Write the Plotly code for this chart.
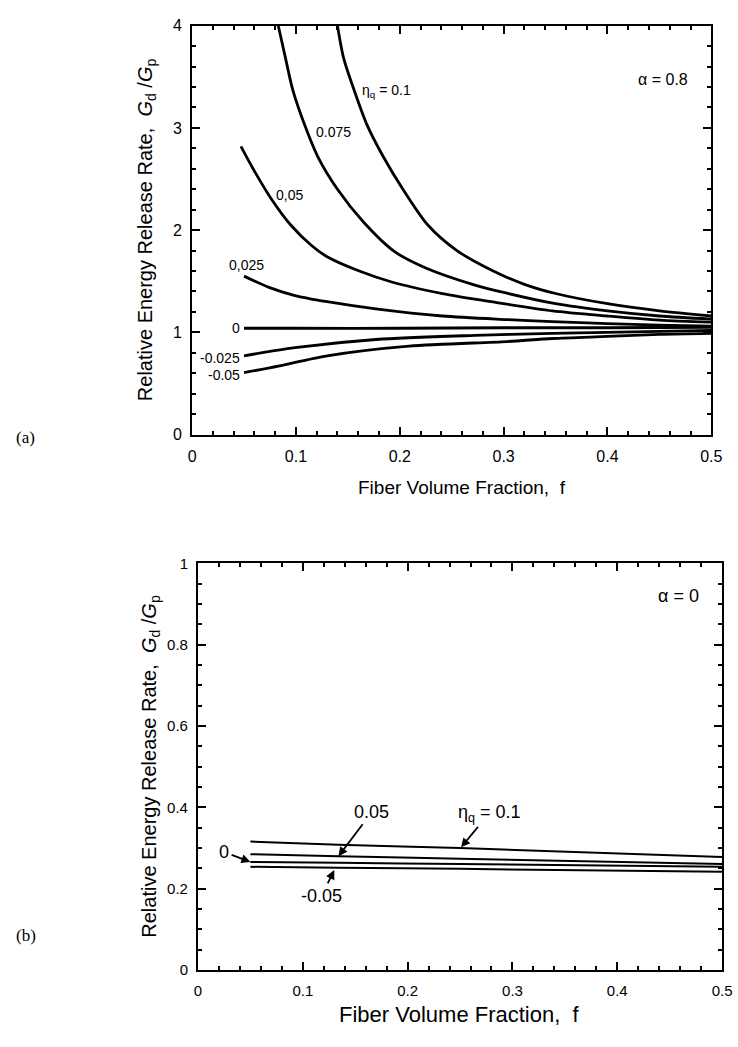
import plotly.graph_objects as go

# ---------------- data: panel (a), alpha = 0.8 ----------------
f_a_p100 = [0.140, 0.146, 0.156, 0.168, 0.184, 0.203, 0.227, 0.255, 0.290, 0.320, 0.350, 0.400, 0.450, 0.500]
g_a_p100 = [4.00, 3.68, 3.37, 3.04, 2.72, 2.40, 2.05, 1.80, 1.60, 1.47, 1.38, 1.28, 1.21, 1.16]
f_a_p075 = [0.083, 0.090, 0.097, 0.108, 0.121, 0.140, 0.165, 0.195, 0.225, 0.270, 0.300, 0.350, 0.400, 0.450, 0.500]
g_a_p075 = [4.00, 3.68, 3.37, 3.04, 2.72, 2.40, 2.08, 1.79, 1.63, 1.47, 1.39, 1.28, 1.21, 1.16, 1.13]
f_a_p050 = [0.047, 0.061, 0.076, 0.095, 0.115, 0.130, 0.161, 0.193, 0.241, 0.288, 0.347, 0.400, 0.450, 0.500]
g_a_p050 = [2.82, 2.56, 2.31, 2.05, 1.85, 1.74, 1.60, 1.49, 1.38, 1.30, 1.21, 1.16, 1.12, 1.10]
f_a_p025 = [0.050, 0.074, 0.099, 0.130, 0.177, 0.241, 0.303, 0.347, 0.400, 0.450, 0.500]
g_a_p025 = [1.55, 1.44, 1.36, 1.30, 1.23, 1.16, 1.125, 1.105, 1.085, 1.07, 1.06]
f_a_000 = [0.050, 0.100, 0.200, 0.300, 0.400, 0.500]
g_a_000 = [1.04, 1.04, 1.04, 1.045, 1.045, 1.05]
f_a_m025 = [0.050, 0.099, 0.177, 0.272, 0.347, 0.400, 0.450, 0.500]
g_a_m025 = [0.77, 0.85, 0.93, 0.97, 0.99, 1.00, 1.01, 1.02]
f_a_m050 = [0.050, 0.083, 0.130, 0.209, 0.303, 0.347, 0.400, 0.450, 0.500]
g_a_m050 = [0.606, 0.67, 0.77, 0.865, 0.91, 0.94, 0.96, 0.98, 0.99]

curve_labels_a = ["η<sub>q</sub> = 0.1", "0.075", "0,05", "0,025", "0", "-0.025", "-0.05"]
curve_label_f_a = [0.187, 0.136, 0.094, 0.052, 0.042, 0.027, 0.031]
curve_label_g_a = [3.36, 2.96, 2.34, 1.66, 1.04, 0.75, 0.58]

# ---------------- data: panel (b), alpha = 0 ----------------
f_b = [0.05, 0.134, 0.25, 0.50]
g_b_p100 = [0.316, 0.308, 0.300, 0.278]
g_b_p050 = [0.285, 0.280, 0.274, 0.261]
g_b_000 = [0.266, 0.264, 0.261, 0.254]
g_b_m050 = [0.254, 0.252, 0.249, 0.242]

labels_b = ["0.05", "η<sub>q</sub> = 0.1", "0", "-0.05"]
label_f_b = [0.166, 0.278, 0.025, 0.118]
label_g_b = [0.389, 0.386, 0.290, 0.183]
arrow_head_f_b = [0.134, 0.251, 0.050, 0.130]
arrow_head_g_b = [0.280, 0.302, 0.266, 0.246]

x_ticks = [0, 0.1, 0.2, 0.3, 0.4, 0.5]
x_ticktext = ["0", "0.1", "0.2", "0.3", "0.4", "0.5"]
y_ticks_a = [0, 1, 2, 3, 4]
y_ticks_b = [0, 0.2, 0.4, 0.6, 0.8, 1.0]
y_ticktext_b = ["0", "0.2", "0.4", "0.6", "0.8", "1"]

FONT = "Liberation Sans, Arial, Helvetica, sans-serif"
SERIF = "Liberation Serif, Times New Roman, serif"
W, H = 738, 1047

def px_x(x):
    return x / W

def px_y(y):
    return 1 - y / H

fig = go.Figure()

for fx, gy in [(f_a_p100, g_a_p100), (f_a_p075, g_a_p075), (f_a_p050, g_a_p050),
               (f_a_p025, g_a_p025), (f_a_000, g_a_000), (f_a_m025, g_a_m025),
               (f_a_m050, g_a_m050)]:
    fig.add_trace(go.Scatter(x=fx, y=gy, mode="lines", xaxis="x", yaxis="y",
                             line=dict(color="black", width=2.8, shape="spline", smoothing=0.8),
                             showlegend=False, hoverinfo="skip"))

for gy in [g_b_p100, g_b_p050, g_b_000, g_b_m050]:
    fig.add_trace(go.Scatter(x=f_b, y=gy, mode="lines", xaxis="x2", yaxis="y2",
                             line=dict(color="black", width=2.0, shape="spline", smoothing=0.6),
                             showlegend=False, hoverinfo="skip"))

ann = []
for t, fx, gy in zip(curve_labels_a, curve_label_f_a, curve_label_g_a):
    ann.append(dict(x=fx, y=gy, xref="x", yref="y", text=t, showarrow=False,
                    xanchor="center", yanchor="middle",
                    font=dict(family=FONT, size=14, color="black")))
ann.append(dict(x=0.453, y=3.47, xref="x", yref="y", text="α = 0.8", showarrow=False,
                xanchor="center", yanchor="middle",
                font=dict(family=FONT, size=16, color="black")))

# labels of panel (b) with arrows pointing at their curves
for t, fx, gy, hx, hy in zip(labels_b, label_f_b, label_g_b, arrow_head_f_b, arrow_head_g_b):
    ann.append(dict(x=hx, y=hy, ax=fx, ay=gy, xref="x2", yref="y2", axref="x2", ayref="y2",
                    text=t, showarrow=True, arrowhead=2, arrowsize=1.0, arrowwidth=1.8,
                    arrowcolor="black", standoff=0, startstandoff=1,
                    font=dict(family=FONT, size=18, color="black")))
ann.append(dict(x=0.458, y=0.92, xref="x2", yref="y2", text="α = 0", showarrow=False,
                xanchor="center", yanchor="middle",
                font=dict(family=FONT, size=18, color="black")))

# axis titles and panel letters
ytitle = "Relative Energy Release Rate,  <i>G</i><sub>d</sub> /<i>G</i><sub>p</sub>"
paper_texts = [
    (145, 225, ytitle, -90, FONT, 20),
    (150, 770, ytitle, -90, FONT, 20),
    (468, 487, "Fiber Volume Fraction,  f", 0, FONT, 19),
    (465, 1023, "Fiber Volume Fraction,  f", 0, FONT, 22),
    (22, 436, "(a)", 0, SERIF, 17),
    (22, 943, "(b)", 0, SERIF, 17),
]
for xp, yp, t, ang, fam, sz in paper_texts:
    ann.append(dict(x=px_x(xp), y=px_y(yp), xref="paper", yref="paper", text=t,
                    textangle=ang, showarrow=False, xanchor="center", yanchor="middle",
                    font=dict(family=fam, size=sz, color="black")))

def axis(domain, rng, tickvals, ticktext, dminor, anchor, fsize):
    return dict(domain=domain, range=rng, anchor=anchor, tickmode="array",
                tickvals=tickvals, ticktext=ticktext, ticks="inside", ticklen=8,
                tickwidth=1.8, tickcolor="black", showline=True, linecolor="black",
                linewidth=2, mirror="allticks", showgrid=False, zeroline=False,
                tickfont=dict(family=FONT, size=fsize, color="black"),
                minor=dict(dtick=dminor, ticks="inside", ticklen=4, tickwidth=1.5,
                           tickcolor="black", showgrid=False),
                fixedrange=True)

fig.update_layout(
    width=W, height=H, margin=dict(l=0, r=0, t=0, b=0),
    paper_bgcolor="white", plot_bgcolor="white",
    xaxis=axis([px_x(192), px_x(722)], [0, 0.5], x_ticks, x_ticktext, 0.02, "y", 16),
    yaxis=axis([px_y(433), px_y(17)], [0, 4], y_ticks_a, [str(v) for v in y_ticks_a], 0.2, "x", 16),
    xaxis2=axis([px_x(198), px_x(733)], [0, 0.5], x_ticks, x_ticktext, 0.02, "y2", 15),
    yaxis2=axis([px_y(978), px_y(564)], [0, 1.0], y_ticks_b, y_ticktext_b, 0.05, "x2", 15),
    annotations=ann,
    showlegend=False,
)
fig.update_xaxes(ticklabelstandoff=6)
fig.update_yaxes(ticklabelstandoff=5)

fig.write_html("out.html")
